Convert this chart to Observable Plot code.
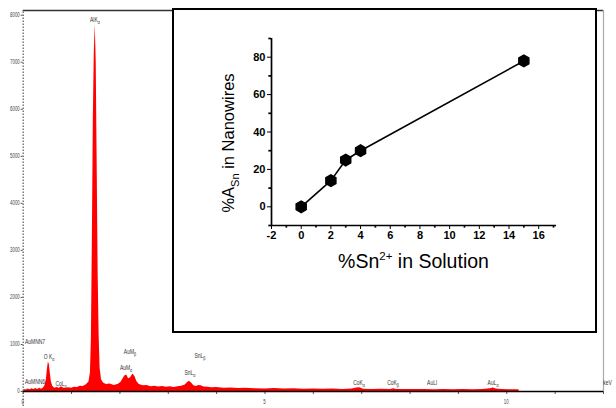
<!DOCTYPE html>
<html><head><meta charset="utf-8">
<script src="https://cdn.jsdelivr.net/npm/d3@7"></script>
<script src="https://cdn.jsdelivr.net/npm/@observablehq/plot@0.6"></script>
<style>
html,body{margin:0;padding:0;background:#fff;}
#wrap{position:relative;width:616px;height:408px;overflow:hidden;font-family:Arial,"Liberation Sans",sans-serif;}
#main{position:absolute;left:0;top:0;}
#inset{position:absolute;left:172px;top:8px;width:425px;height:325px;background:#fff;}
#insetPlot{position:absolute;left:0;top:0;}
#insetBorder{position:absolute;left:0;top:0;width:425px;height:325px;box-sizing:border-box;border:2px solid #000;}
#insetPlot line{stroke-width:1.7px;}
</style></head><body>
<div id="wrap"><div id="main"></div><div id="inset"><div id="insetPlot"></div><div id="insetBorder"></div></div></div>
<script>
// ---- EDS spectrum (keV, counts) ----
const kev = [0.00,0.02,0.06,0.10,0.14,0.18,0.22,0.26,0.30,0.34,0.38,0.42,0.45,0.48,0.50,0.52,0.54,0.56,0.58,0.61,0.65,0.70,0.75,0.79,0.83,0.88,0.94,1.00,1.06,1.12,1.18,1.24,1.30,1.36,1.39,1.41,1.43,1.45,1.47,1.49,1.51,1.53,1.55,1.57,1.59,1.62,1.66,1.72,1.80,1.88,1.96,2.02,2.06,2.10,2.14,2.18,2.22,2.27,2.31,2.35,2.40,2.48,2.56,2.64,2.72,2.80,2.88,2.96,3.04,3.12,3.20,3.28,3.35,3.40,3.44,3.48,3.53,3.58,3.63,3.68,3.74,3.82,3.90,4.00,4.15,4.30,4.45,4.60,4.80,5.00,5.20,5.40,5.60,5.80,6.00,6.20,6.40,6.60,6.80,6.90,6.96,7.04,7.20,7.40,7.60,7.66,7.72,7.90,8.10,8.30,8.50,8.70,8.90,9.10,9.30,9.50,9.66,9.72,9.78,9.90,10.05,10.25,10.26];
const counts = [0,40,30,55,35,60,40,65,45,70,50,75,120,260,470,620,580,400,220,110,70,85,70,100,75,65,80,70,90,85,110,105,140,200,400,1100,3200,5800,7200,7800,7000,4800,2500,1200,500,250,180,150,160,130,150,190,260,330,350,270,290,370,320,210,150,120,130,100,110,95,105,90,100,85,100,110,140,190,220,180,120,105,125,120,95,90,80,85,70,75,65,70,60,55,65,55,60,50,55,50,55,45,55,75,80,50,45,50,45,60,45,40,45,40,35,40,35,40,35,40,60,75,55,40,35,35,0];

const mainYTicks = [0,1000,2000,3000,4000,5000,6000,7000,8000];
const mainXTicks = [0,1,2,3,4,5,6,7,8,9,10,11,12];
const mainXLabels = [0,5,10];

// peak annotations
const peakName = ["AuMNN7","AuMNN6","O K","CoL","AlK","AuM","AuM","SnL","SnL","CoK","CoK","AuLl","AuL"];
const peakSub  = ["","","α","α","α","β","α","β","α","α","β","","α"];
const peakKev  = [0.35,0.42,0.544,0.792,1.495,2.219,2.137,3.667,3.46,6.955,7.658,8.465,9.727];
const peakCnt  = [1063,213,744,170,7908,850,510,765,404,191,191,191,191];

// ---- inset data ----
const snSolution = [0,2,3,4,15];
const snWire = [0,14,25,30,78];
const insetXTicks = [-2,0,2,4,6,8,10,12,14,16];
const insetYTicks = [0,20,40,60,80];
const insetXMinor = [-1,1,3,5,7,9,11,13,15,17];
const insetYMinor = [-10,10,30,50,70,90];

const spectrum = kev.map((k,i)=>({k, c: counts[i]}));

const main = Plot.plot({
  width: 616, height: 408,
  marginLeft: 22.7, marginRight: 13, marginTop: 10, marginBottom: 17,
  x: {domain:[0,12], ticks: mainXTicks, tickSize: 3, tickFormat: () => "", label: null},
  y: {domain:[0,8100], ticks: mainYTicks, tickSize: 2, tickFormat: () => "", label: null},
  style: {background:"transparent", color:"#555", fontFamily:"Arial"},
  marks: [
    Plot.areaY(spectrum, {x:"k", y:"c", fill:"#ff0000", curve:"linear"}),
    Plot.ruleY([0], {stroke:"#000", strokeWidth:1.3}),
    Plot.ruleY([8100], {stroke:"#333", strokeWidth:1.6}),
    Plot.ruleX([12], {stroke:"#aaa", strokeWidth:1.2}),
    Plot.ruleX([0], {y1:-320, y2:8100, stroke:"#666", strokeWidth:1.3, strokeDasharray:"1.6,1.4"})
  ]
});
document.getElementById("main").appendChild(main);
{
  const sx = main.scale("x"), sy = main.scale("y");
  const svg = d3.select(main);
  const g = svg.append("g").attr("font-family","Arial, sans-serif").attr("fill","#444");
  mainYTicks.forEach(v => {
    g.append("g").attr("transform",`translate(${sx.apply(0)-3},${sy.apply(v)}) scale(0.62,1)`)
     .append("text").attr("text-anchor","end").attr("dy","0.35em").attr("font-size",7).text(v);
  });
  mainXLabels.forEach(v => {
    g.append("g").attr("transform",`translate(${sx.apply(v)},${sy.apply(0)+11}) scale(0.62,1)`)
     .append("text").attr("text-anchor","middle").attr("dy","0.35em").attr("font-size",7).text(v);
  });
  const lg = svg.append("g").attr("font-family","Arial, sans-serif").attr("fill","#333");
  peakName.forEach((n,i) => {
    const anchor = i < 2 ? "start" : "middle";
    let px = sx.apply(peakKev[i]);
    if (i < 2) px = sx.apply(0) + 2.3;
    const t = lg.append("g").attr("transform",`translate(${px},${sy.apply(peakCnt[i])}) scale(0.62,1)`)
      .append("text").attr("text-anchor",anchor).attr("dy","0.35em").attr("font-size",8);
    t.append("tspan").text(n);
    if (peakSub[i]) t.append("tspan").attr("dy",2).attr("font-size",6).text(peakSub[i]);
  });
  lg.append("g").attr("transform",`translate(${sx.apply(12)+4.5},${sy.apply(191)}) scale(0.62,1)`)
    .append("text").attr("dy","0.35em").attr("font-size",8).text("keV");
}

const insetData = snSolution.map((x,i)=>({x, y: snWire[i]}));
const inset = Plot.plot({
  width: 425, height: 325,
  marginLeft: 99, marginRight: 41, marginTop: 30, marginBottom: 108,
  x: {domain:[-2,17.2], ticks: insetXTicks, tickSize: 4, tickPadding: 2, tickFormat: d => String(d), label: null},
  y: {domain:[-10,90], ticks: insetYTicks, tickSize: 4, tickPadding: 2, tickFormat: d => String(d), label: null},
  style: {background:"transparent", color:"#000", fontFamily:"Arial", fontSize:"11px", fontWeight:"bold"},
  marks: [
    Plot.ruleY([-10], {x1:-2, x2:17.2, stroke:"#000", strokeWidth:2}),
    Plot.ruleX([-2], {y1:-10, y2:90, stroke:"#000", strokeWidth:2}),
    Plot.ruleX(insetXMinor, {y1:-10, y2:-11.4, stroke:"#000"}),
    Plot.ruleY(insetYMinor, {x1:-2, x2:-2.18, stroke:"#000"}),
    Plot.line(insetData, {x:"x", y:"y", stroke:"#000", strokeWidth:1.6}),
    Plot.dot(insetData, {x:"x", y:"y", symbol:"hexagon", r:5, fill:"#000", stroke:"#000"})
  ]
});
document.getElementById("insetPlot").appendChild(inset);
{
  const svg = d3.select(inset);
  const g = svg.append("g").attr("font-family","Arial, sans-serif").attr("fill","#000").attr("font-weight","normal");
  const xl = g.append("text").attr("x", (99 + 384)/2).attr("y", 217 + 43).attr("text-anchor","middle").attr("font-size",19.5);
  xl.append("tspan").text("%Sn");
  xl.append("tspan").attr("dy",-8).attr("font-size",11.5).text("2+");
  xl.append("tspan").attr("dy",8).text(" in Solution");
  const yl = g.append("text").attr("transform",`translate(62,135) rotate(-90)`).attr("text-anchor","middle").attr("font-size",16.5);
  yl.append("tspan").text("%A");
  yl.append("tspan").attr("dy",5).attr("font-size",11).text("Sn");
  yl.append("tspan").attr("dy",-5).text(" in Nanowires");
}
</script>
</body></html>
